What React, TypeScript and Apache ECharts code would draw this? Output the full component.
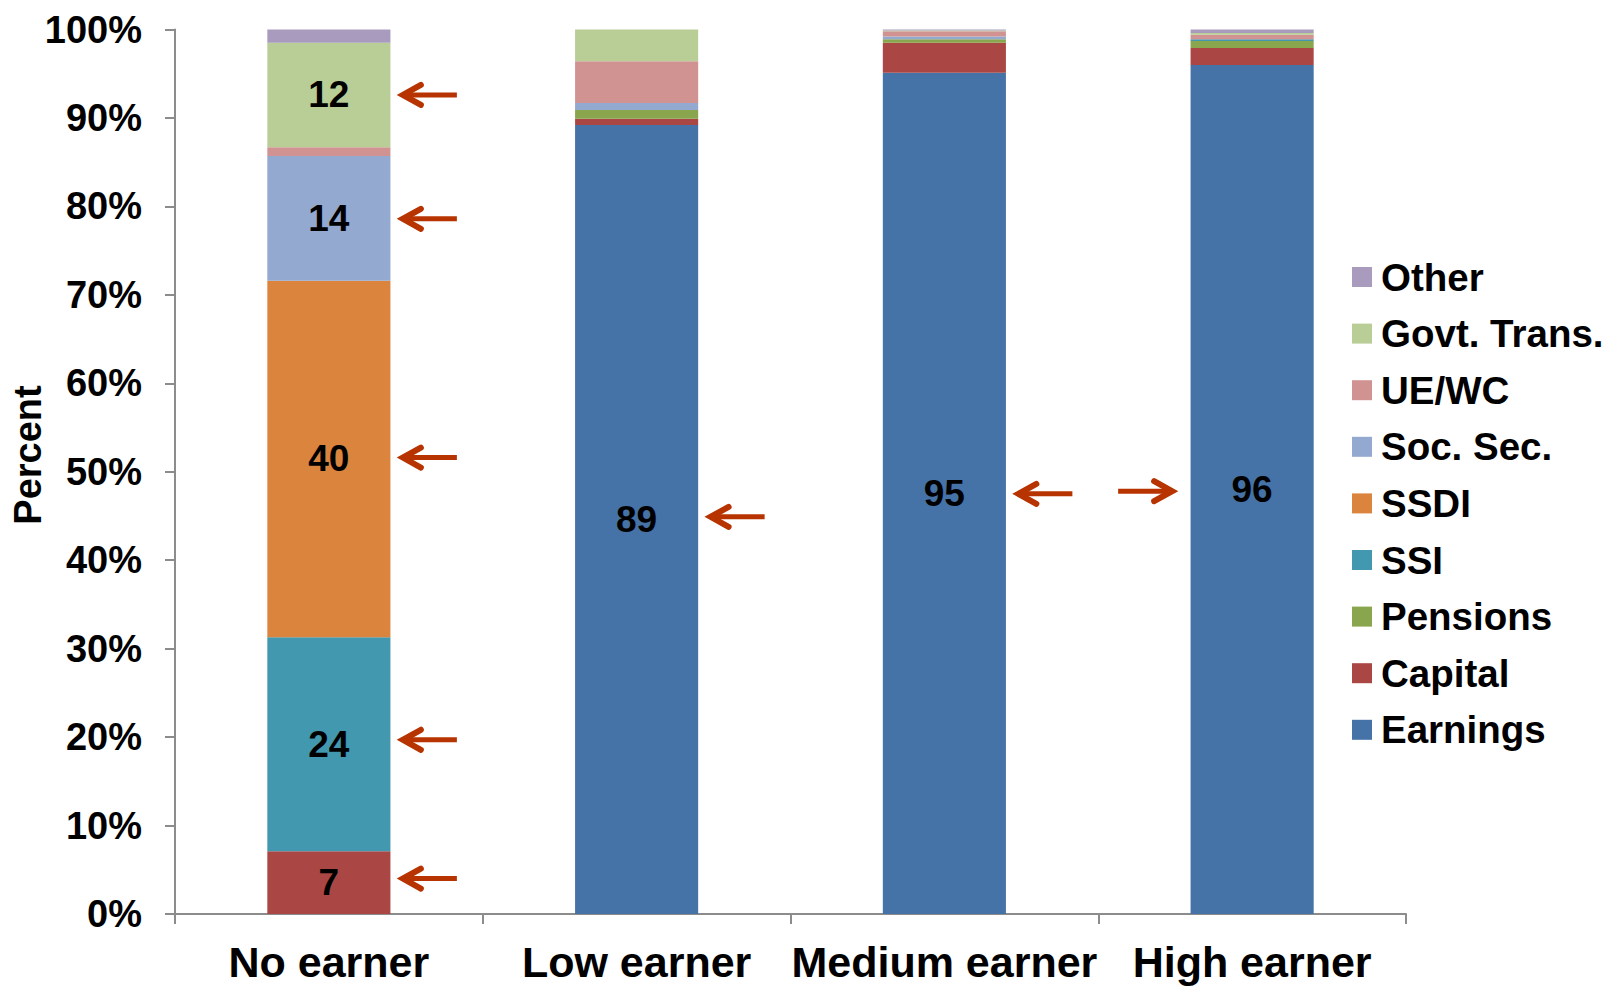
import React, { useEffect, useRef } from "react";
import * as echarts from "echarts";

const categories = ["No earner", "Low earner", "Medium earner", "High earner"];
const earnings = [0, 89.2, 95.1, 96.0];
const capital = [7.1, 0.7, 3.4, 1.9];
const pensions = [0, 1.0, 0.4, 0.8];
const ssi = [24.2, 0, 0, 0.2];
const ssdi = [40.3, 0, 0, 0];
const socSec = [14.1, 0.8, 0.3, 0];
const ueWc = [1.0, 4.7, 0.6, 0.5];
const govtTrans = [11.8, 3.6, 0.1, 0.2];
const other = [1.5, 0, 0.1, 0.4];

const seriesNames = ["Earnings", "Capital", "Pensions", "SSI", "SSDI", "Soc. Sec.", "UE/WC", "Govt. Trans.", "Other"];
const seriesData = [earnings, capital, pensions, ssi, ssdi, socSec, ueWc, govtTrans, other];
const seriesColors = ["#4572A7", "#AA4643", "#89A54E", "#4198AF", "#DB843D", "#93A9CF", "#D19392", "#B9CD96", "#A99BBD"];
const legendOrder = ["Other", "Govt. Trans.", "UE/WC", "Soc. Sec.", "SSDI", "SSI", "Pensions", "Capital", "Earnings"];

// annotation arrows: [category index, y value, direction (0 = points left, 1 = points right)]
const arrows = [
  [0, 92.6, 0],
  [0, 78.6, 0],
  [0, 51.6, 0],
  [0, 19.7, 0],
  [0, 4.0, 0],
  [1, 44.9, 0],
  [2, 47.5, 0],
  [3, 47.8, 1],
];

const FONT = "'Liberation Sans', Arial, sans-serif";
const ARROW_COLOR = "#B73400";

export default function App() {
  const ref = useRef<HTMLDivElement>(null);
  useEffect(() => {
    document.body.style.margin = "0";
    const chart = echarts.init(ref.current!, null, { renderer: "svg" });
    const barSeries = seriesNames.map((name, i) => ({
      name,
      type: "bar",
      stack: "total",
      barWidth: "40%",
      data: seriesData[i],
      itemStyle: { color: seriesColors[i] },
      label: {
        show: true,
        position: "inside",
        color: "#000",
        fontFamily: FONT,
        fontWeight: "bold",
        fontSize: 37,
        formatter: (p: any) => (p.value >= 5 ? String(Math.round(p.value)) : ""),
      },
    }));
    chart.setOption({
      animation: false,
      backgroundColor: "#fff",
      grid: { left: 175, right: 202, top: 29.5, bottom: 72, containLabel: false },
      legend: {
        data: legendOrder,
        orient: "vertical",
        left: 1347,
        top: 252,
        itemWidth: 20,
        itemHeight: 20,
        itemGap: 16.6,
        icon: "rect",
        selectedMode: false,
        textStyle: { color: "#000", fontFamily: FONT, fontWeight: "bold", fontSize: 38.5, lineHeight: 40, padding: [0, 0, 0, 4] },
      },
      xAxis: {
        type: "category",
        data: categories,
        axisLine: { lineStyle: { color: "#8c8c8c", width: 2 } },
        axisTick: { show: true, length: 10, alignWithLabel: false, lineStyle: { color: "#8c8c8c", width: 2 } },
        axisLabel: { color: "#000", fontFamily: FONT, fontWeight: "bold", fontSize: 43, margin: 26, interval: 0 },
      },
      yAxis: {
        type: "value",
        min: 0,
        max: 100,
        interval: 10,
        splitLine: { show: false },
        axisLine: { show: true, lineStyle: { color: "#8c8c8c", width: 2 } },
        axisTick: { show: true, length: 10, lineStyle: { color: "#8c8c8c", width: 2 } },
        axisLabel: { color: "#000", fontFamily: FONT, fontWeight: "bold", fontSize: 38, margin: 33, formatter: "{value}%" },
      },
      graphic: [
        {
          type: "text",
          x: 28,
          y: 455,
          rotation: Math.PI / 2,
          style: {
            text: "Percent",
            fill: "#000",
            font: `bold 38px ${FONT}`,
            textAlign: "center",
            textVerticalAlign: "middle",
          },
        },
      ],
      series: [
        ...barSeries,
        {
          type: "custom",
          name: "arrows",
          silent: true,
          z: 10,
          data: arrows,
          encode: { x: 0, y: 1 },
          renderItem: (params: any, api: any) => {
            const c = api.coord([api.value(0), api.value(1)]);
            const dir = Number(api.value(2));
            const y = c[1];
            const s = dir === 0 ? 1 : -1;
            const tip = dir === 0 ? c[0] + 72 : c[0] - 78;
            const tail = tip + s * 56;
            const hx = tip + s * 20;
            return {
              type: "group",
              children: [
                {
                  type: "polyline",
                  shape: { points: [[tip + s * 4, y], [tail, y]] },
                  style: { stroke: ARROW_COLOR, lineWidth: 5, fill: "none", lineCap: "butt" },
                },
                {
                  type: "polyline",
                  shape: { points: [[hx, y - 10], [tip + s * 2, y], [hx, y + 10]] },
                  style: { stroke: ARROW_COLOR, lineWidth: 6, fill: "none", lineCap: "round", lineJoin: "miter" },
                },
              ],
            };
          },
        },
      ],
    });
    return () => chart.dispose();
  }, []);
  return <div ref={ref} style={{ position: "fixed", left: 0, top: 0, width: 1608, height: 986 }} />;
}
